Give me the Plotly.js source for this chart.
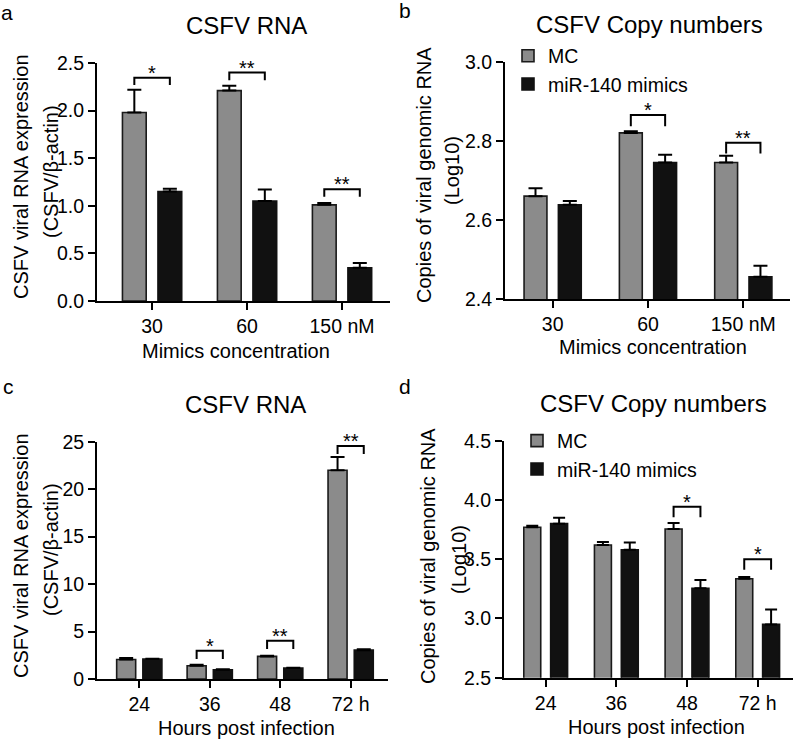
<!DOCTYPE html>
<html><head><meta charset="utf-8">
<script src="https://cdn.plot.ly/plotly-3.0.1.min.js"></script>
<style>html,body{margin:0;padding:0;background:#fff}</style>
</head><body><div id="chart" style="width:800px;height:740px"></div>
<script>
// ---------- data ----------
const seriesNames = ['MC', 'miR-140 mimics'];
// Panel a: CSFV RNA vs mimics concentration
const concLabels = ['30', '60', '150 nM'];
const aMC = [1.98, 2.21, 1.01];
const aMCerr = [0.24, 0.05, 0.02];
const aMimic = [1.15, 1.05, 0.35];
const aMimicErr = [0.03, 0.12, 0.05];
const aSigGroup = [0, 1, 2];
const aSigLabel = ['*', '**', '**'];
const aSigTop = [2.345, 2.40, 1.175];
const aSigLeg = [2.27, 2.32, 1.095];
// Panel b: copy numbers vs mimics concentration
const bMC = [2.66, 2.82, 2.745];
const bMCerr = [0.02, 0.004, 0.017];
const bMimic = [2.638, 2.745, 2.456];
const bMimicErr = [0.01, 0.02, 0.028];
const bSigGroup = [1, 2];
const bSigLabel = ['*', '**'];
const bSigTop = [2.865, 2.795];
const bSigLeg = [2.837, 2.768];
// Panel c: CSFV RNA vs hours post infection
const hourLabels = ['24', '36', '48', '72 h'];
const cMC = [2.05, 1.40, 2.38, 22.0];
const cMCerr = [0.15, 0.10, 0.07, 1.4];
const cMimic = [2.1, 0.98, 1.15, 3.04];
const cMimicErr = [0.04, 0.04, 0.04, 0.10];
const cSigGroup = [1, 2, 3];
const cSigLabel = ['*', '**', '**'];
const cSigTop = [2.97, 4.02, 24.55];
const cSigLeg = [2.1, 3.15, 23.7];
// Panel d: copy numbers vs hours post infection
const dMC = [3.77, 3.62, 3.755, 3.335];
const dMCerr = [0.012, 0.025, 0.05, 0.015];
const dMimic = [3.80, 3.58, 3.255, 2.95];
const dMimicErr = [0.05, 0.06, 0.07, 0.125];
const dSigGroup = [2, 3];
const dSigLabel = ['*', '*'];
const dSigTop = [3.943, 3.50];
const dSigLeg = [3.853, 3.41];
const aTicks = [0, 0.5, 1.0, 1.5, 2.0, 2.5];
const bTicks = [2.4, 2.6, 2.8, 3.0];
const cTicks = [0, 5, 10, 15, 20, 25];
const dTicks = [2.5, 3.0, 3.5, 4.0, 4.5];

// ---------- style ----------
const FONT = 'Liberation Sans, Arial, Helvetica, sans-serif';
const GRAY = '#8b8b8b', BLACK = '#111111', EDGE = '#1a1a1a';
const W = 800, H = 740;
const px = v => v / W, py = v => 1 - v / H;
const TICK = 19.5, AXT = 20, TTL = 24, LEG = 19.5, STAR = 20;

const traces = [];
const annotations = [];
function panel(ax, labels, mc, mcErr, mim, mimErr, sg, sl, st, sll, bw, c, capW, legendId) {
  const xs = labels.map((_, i) => i);
  const xa = ax === 1 ? 'x' : 'x' + ax, ya = ax === 1 ? 'y' : 'y' + ax;
  const showL = !!legendId;
  traces.push({
    type: 'bar', x: xs, y: mc, name: seriesNames[0], xaxis: xa, yaxis: ya,
    width: bw, offset: -c - bw / 2,
    marker: {color: GRAY, line: {color: EDGE, width: 1.6}},
    error_y: {type: 'data', array: mcErr, arrayminus: mcErr.map(() => 0), symmetric: false, color: '#000', thickness: 2, width: capW},
    showlegend: showL, legend: legendId || 'legend', hoverinfo: 'skip'
  });
  traces.push({
    type: 'bar', x: xs, y: mim, name: seriesNames[1], xaxis: xa, yaxis: ya,
    width: bw, offset: c - bw / 2,
    marker: {color: BLACK, line: {color: BLACK, width: 1.6}},
    error_y: {type: 'data', array: mimErr, arrayminus: mimErr.map(() => 0), symmetric: false, color: '#000', thickness: 2, width: capW},
    showlegend: showL, legend: legendId || 'legend', hoverinfo: 'skip'
  });
  // significance brackets
  const bx = [], by = [];
  sg.forEach((g, i) => {
    bx.push(g - c, g - c, g + c, g + c, null);
    by.push(sll[i], st[i], st[i], sll[i], null);
    annotations.push({text: sl[i], xref: xa, yref: ya, x: g, y: st[i], xanchor: 'center', yanchor: 'middle',
      yshift: 5, showarrow: false, font: {family: FONT, size: STAR, color: '#000'}});
  });
  traces.push({type: 'scatter', mode: 'lines', x: bx, y: by, xaxis: xa, yaxis: ya,
    line: {color: '#000', width: 2}, showlegend: false, hoverinfo: 'skip', cliponaxis: false});
}
panel(1, concLabels, aMC, aMCerr, aMimic, aMimicErr, aSigGroup, aSigLabel, aSigTop, aSigLeg, 0.25, 0.187, 7, null);
panel(2, concLabels, bMC, bMCerr, bMimic, bMimicErr, bSigGroup, bSigLabel, bSigTop, bSigLeg, 0.24, 0.18, 7, 'legend');
panel(3, hourLabels, cMC, cMCerr, cMimic, cMimicErr, cSigGroup, cSigLabel, cSigTop, cSigLeg, 0.27, 0.186, 7, null);
panel(4, hourLabels, dMC, dMCerr, dMimic, dMimicErr, dSigGroup, dSigLabel, dSigTop, dSigLeg, 0.24, 0.19, 6, 'legend2');

function xAxis(x0, x1, range, labels, anchor) {
  return {domain: [px(x0), px(x1)], range: range, anchor: anchor,
    tickvals: labels.map((_, i) => i), ticktext: labels,
    showline: true, linecolor: '#000', linewidth: 2, ticks: 'outside', ticklen: 7, tickwidth: 2, tickcolor: '#000',
    showgrid: false, zeroline: false, fixedrange: true,
    tickfont: {family: FONT, size: TICK, color: '#000'}};
}
function yAxis(y0, y1, range, ticks, fmt, anchor) {
  return {domain: [py(y1), py(y0)], range: range, anchor: anchor,
    tickvals: ticks, tickformat: fmt,
    showline: true, linecolor: '#000', linewidth: 2, ticks: 'outside', ticklen: 7, tickwidth: 2, tickcolor: '#000',
    showgrid: false, zeroline: false, fixedrange: true,
    tickfont: {family: FONT, size: TICK, color: '#000'}};
}

function ann(text, x, y, size, angle) {
  return {text: text, xref: 'paper', yref: 'paper', x: px(x), y: py(y), xanchor: 'center', yanchor: 'middle',
    showarrow: false, textangle: angle || 0, font: {family: FONT, size: size, color: '#000'}};
}
annotations.push(
  ann('a', 7, 12, 21), ann('b', 405, 11, 21), ann('c', 8, 386, 21), ann('d', 405, 386, 21),
  ann('CSFV RNA', 246, 26, TTL), ann('CSFV Copy numbers', 649, 25, TTL),
  ann('CSFV RNA', 245, 405, TTL), ann('CSFV Copy numbers', 653, 403, TTL),
  ann('Mimics concentration', 236, 351, AXT), ann('Mimics concentration', 653, 347, AXT),
  ann('Hours post infection', 246, 727.5, AXT), ann('Hours post infection', 656, 727, AXT),
  ann('CSFV viral RNA expression', 21, 177, AXT, -90), ann('(CSFV/β-actin)', 51, 172, AXT, -90),
  ann('Copies of viral genomic RNA', 424, 175, AXT, -90), ann('(Log10)', 452, 170, AXT, -90),
  ann('CSFV viral RNA expression', 21, 556, AXT, -90), ann('(CSFV/β-actin)', 51, 550, AXT, -90),
  ann('Copies of viral genomic RNA', 428, 556, AXT, -90), ann('(Log10)', 459, 560, AXT, -90)
);

const layout = {
  width: W, height: H, margin: {l: 0, r: 0, t: 0, b: 0},
  paper_bgcolor: '#fff', plot_bgcolor: 'rgba(0,0,0,0)',
  barmode: 'overlay',
  font: {family: FONT, color: '#000'},
  xaxis: xAxis(97, 390, [-0.58, 2.505], concLabels, 'y'),
  yaxis: yAxis(63, 301, [0, 2.5], aTicks, '.1f', 'x'),
  xaxis2: xAxis(505, 790, [-0.5, 2.49], concLabels, 'y2'),
  yaxis2: yAxis(61.7, 299, [2.4, 3.0], bTicks, '.1f', 'x2'),
  xaxis3: xAxis(97, 388, [-0.6, 3.53], hourLabels, 'y3'),
  yaxis3: yAxis(441.7, 679, [0, 25], cTicks, 'd', 'x3'),
  xaxis4: xAxis(504, 793, [-0.59, 3.5], hourLabels, 'y4'),
  yaxis4: yAxis(440.7, 677.7, [2.5, 4.5], dTicks, '.1f', 'x4'),
  legend: {x: px(508), xanchor: 'left', y: py(36.5), yanchor: 'top', font: {family: FONT, size: LEG, color: '#000'},
    bgcolor: 'rgba(0,0,0,0)', traceorder: 'normal'},
  legend2: {x: px(517), xanchor: 'left', y: py(421.5), yanchor: 'top', font: {family: FONT, size: LEG, color: '#000'},
    bgcolor: 'rgba(0,0,0,0)', traceorder: 'normal'},
  annotations: annotations,
  showlegend: true
};
Plotly.newPlot('chart', traces, layout, {staticPlot: true, displayModeBar: false});
</script></body></html>
